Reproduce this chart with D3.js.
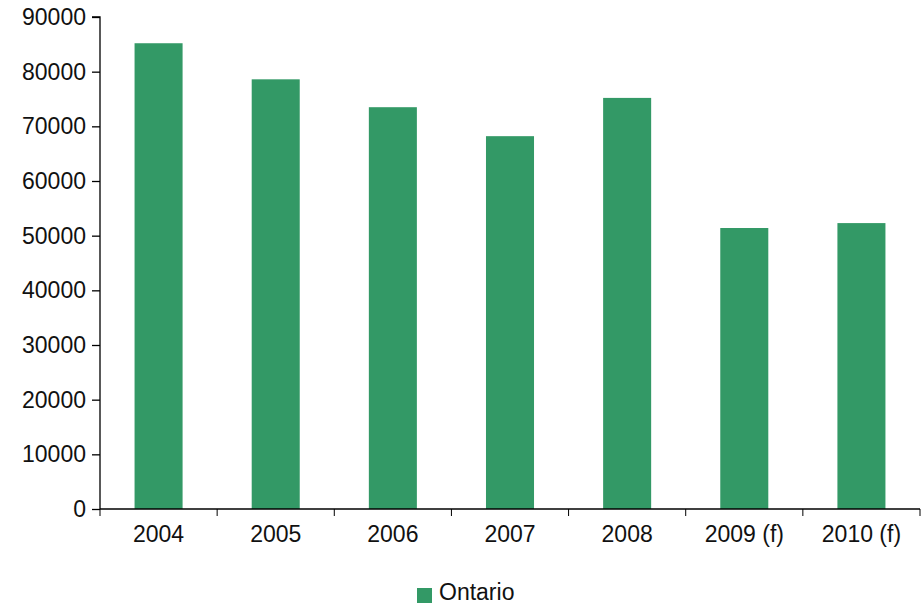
<!DOCTYPE html>
<html>
<head>
<meta charset="utf-8">
<script src="https://cdn.jsdelivr.net/npm/d3@7"></script>
<style>
  body { margin: 0; background: #fff; }
  svg { display: block; font-family: "Liberation Sans", Arial, sans-serif; }
</style>
</head>
<body>
<svg width="922" height="606"></svg>
<script>
// data
const years = ["2004", "2005", "2006", "2007", "2008", "2009 (f)", "2010 (f)"];
const ontario = [85200, 78600, 73500, 68200, 75200, 51400, 52300];
const yTicks = [0, 10000, 20000, 30000, 40000, 50000, 60000, 70000, 80000, 90000];
const seriesName = "Ontario";

const margin = { top: 17, right: 2, bottom: 97, left: 100 },
      width = 922 - margin.left - margin.right,
      height = 606 - margin.top - margin.bottom;

const svg = d3.select("svg")
              .append("g")
              .attr("transform", `translate(${margin.left},${margin.top})`);

const xScale = d3.scaleBand()
                 .domain(years)
                 .range([0, width])
                 .padding(0);

const yScale = d3.scaleLinear()
                 .domain([0, 90000])
                 .range([height, 0]);

const barW = xScale.bandwidth() * 0.41;

// bars
svg.append("g")
   .selectAll("rect")
   .data(years.map((y, i) => ({ year: y, value: ontario[i] })))
   .enter().append("rect")
   .attr("x", d => xScale(d.year) + (xScale.bandwidth() - barW) / 2)
   .attr("y", d => yScale(d.value))
   .attr("width", barW)
   .attr("height", d => yScale(0) - yScale(d.value))
   .attr("fill", "#339966");

// y axis
const yAxis = svg.append("g")
   .call(d3.axisLeft(yScale).tickValues(yTicks).tickFormat(d3.format("d")).tickSize(8).tickPadding(6));
yAxis.select(".domain").attr("d", `M-8,${yScale(90000)}H0V${yScale(0)}`);

// x axis, ticks at band boundaries
const xAxis = svg.append("g")
   .attr("transform", `translate(0,${height})`)
   .call(d3.axisBottom(xScale).tickSize(0).tickPadding(17));
xAxis.select(".domain").attr("d", `M0,0H${width}`);
xAxis.append("g")
   .selectAll("line")
   .data(years.concat(["end"]))
   .enter().append("line")
   .attr("x1", (d, i) => i * xScale.step())
   .attr("x2", (d, i) => i * xScale.step())
   .attr("y1", 0)
   .attr("y2", 7)
   .attr("stroke", "#000");

svg.selectAll(".tick text")
   .style("font-size", "23px")
   .attr("fill", "#111");
svg.selectAll(".domain, .tick line").attr("stroke", "#000").attr("stroke-width", 1.3);

// legend
const legend = svg.append("g")
   .attr("transform", `translate(${417 - margin.left}, ${588 - margin.top})`);
legend.append("rect")
   .attr("width", 15)
   .attr("height", 15)
   .attr("fill", "#339966");
legend.append("text")
   .attr("x", 22)
   .attr("y", 12)
   .style("font-size", "23px")
   .attr("fill", "#111")
   .text(seriesName);
</script>
</body>
</html>
